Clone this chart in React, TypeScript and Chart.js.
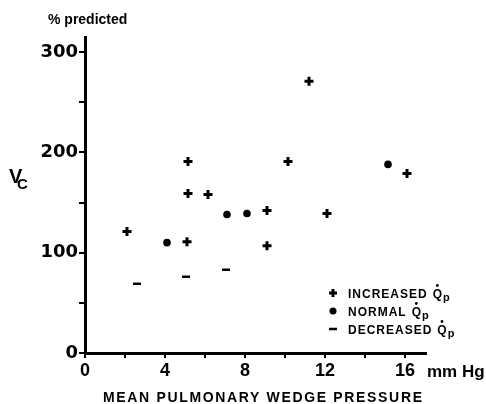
import React, { useEffect, useRef } from "react";
import { Chart, registerables } from "chart.js";

Chart.register(...registerables);

// ---- data ----
const increasedX = [2.1, 5.1, 5.15, 5.15, 6.15, 9.1, 9.1, 10.15, 11.2, 12.1, 16.1];
const increasedY = [121, 111, 191, 159, 158, 142, 107, 191, 271, 139, 179];
const normalX = [4.1, 7.1, 8.1, 15.15];
const normalY = [110, 138, 139, 188];
const decreasedX = [2.6, 5.05, 7.05];
const decreasedY = [69, 76, 83];

const xTickValues = [0, 2, 4, 6, 8, 10, 12, 14, 16];
const xTickLabels = [0, 4, 8, 12, 16];
const yTickValues = [0, 50, 100, 150, 200, 250, 300];
const yTickLabels = [0, 100, 200, 300];

const legendLabels = ["INCREASED", "NORMAL", "DECREASED"];
const xTitle = "MEAN PULMONARY WEDGE PRESSURE";
const yUnit = "% predicted";
const xUnit = "mm Hg";

const FONT = "'Liberation Sans', Arial, sans-serif";
const WIDE = "'DejaVu Sans', sans-serif";

const pts = (xs: number[], ys: number[]) => xs.map((x, i) => ({ x, y: ys[i] }));

const annotations = {
  id: "annotations",
  afterDraw(chart: any) {
    const ctx = chart.ctx as CanvasRenderingContext2D;
    ctx.save();
    ctx.fillStyle = "#000";
    ctx.strokeStyle = "#000";
    ctx.textBaseline = "alphabetic";
    ctx.textAlign = "left";

    // % predicted
    ctx.font = `bold 14px ${FONT}`;
    ctx.fillText(yUnit, 48, 24);

    // V_C
    ctx.font = `bold 20px ${FONT}`;
    ctx.fillText("V", 9, 183);
    ctx.font = `bold 15px ${FONT}`;
    ctx.fillText("C", 17, 189);

    // mm Hg
    ctx.font = `bold 17px ${FONT}`;
    ctx.fillText(xUnit, 427, 377);

    // x title with letter spacing
    ctx.font = `bold 14px ${FONT}`;
    const natural = ctx.measureText(xTitle).width;
    const target = 319;
    const sp = (target - natural) / (xTitle.length - 1);
    (ctx as any).letterSpacing = `${sp}px`;
    ctx.fillText(xTitle, 103, 402);
    (ctx as any).letterSpacing = "0px";

    // legend
    const rows = [293, 311, 329];
    const symX = 333;
    rows.forEach((ry, i) => {
      ctx.lineWidth = i === 2 ? 2.5 : 3;
      if (i === 0) {
        ctx.beginPath();
        ctx.moveTo(symX - 4, ry);
        ctx.lineTo(symX + 4, ry);
        ctx.moveTo(symX, ry - 4);
        ctx.lineTo(symX, ry + 4);
        ctx.stroke();
      } else if (i === 1) {
        ctx.beginPath();
        ctx.arc(symX, ry, 3.5, 0, Math.PI * 2);
        ctx.fill();
      } else {
        ctx.beginPath();
        ctx.moveTo(symX - 4, ry);
        ctx.lineTo(symX + 4, ry);
        ctx.stroke();
      }
      ctx.font = `bold 12px ${FONT}`;
      (ctx as any).letterSpacing = "1px";
      ctx.fillText(legendLabels[i], 348, ry + 4.5);
      const w = ctx.measureText(legendLabels[i]).width;
      (ctx as any).letterSpacing = "0px";
      const qx = 348 + w + 5;
      ctx.font = `bold 12px ${FONT}`;
      ctx.fillText("Q", qx, ry + 4.5);
      const qw = ctx.measureText("Q").width;
      ctx.beginPath();
      ctx.arc(qx + qw / 2, ry - 7.5, 1.4, 0, Math.PI * 2);
      ctx.fill();
      ctx.font = `bold 11px ${FONT}`;
      ctx.fillText("p", qx + qw + 1, ry + 8);
    });
    ctx.restore();
  },
};

export default function App() {
  const ref = useRef<HTMLCanvasElement>(null);
  useEffect(() => {
    if (!ref.current) return;
    const chart = new Chart(ref.current, {
      type: "scatter",
      data: {
        datasets: [
          {
            label: "INCREASED",
            data: pts(increasedX, increasedY),
            pointStyle: "cross",
            pointRadius: 4.5,
            pointBorderWidth: 3,
            borderColor: "#000",
            backgroundColor: "#000",
          },
          {
            label: "NORMAL",
            data: pts(normalX, normalY),
            pointStyle: "circle",
            pointRadius: 3.8,
            pointBorderWidth: 0,
            borderColor: "#000",
            backgroundColor: "#000",
          },
          {
            label: "DECREASED",
            data: pts(decreasedX, decreasedY),
            pointStyle: "line",
            pointRadius: 4,
            pointBorderWidth: 2.5,
            borderColor: "#000",
            backgroundColor: "#000",
          },
        ],
      },
      options: {
        responsive: false,
        animation: false,
        layout: { padding: { top: 37, right: 60, left: 0, bottom: 0 } },
        plugins: { legend: { display: false }, tooltip: { enabled: false } },
        scales: {
          x: {
            type: "linear",
            min: 0,
            max: 17.05,
            afterBuildTicks: (s: any) => {
              s.ticks = xTickValues.map((v) => ({ value: v }));
            },
            afterFit: (s: any) => {
              s.height = 51;
            },
            ticks: {
              autoSkip: false,
              maxRotation: 0,
              color: "#000",
              font: { family: FONT, size: 18, weight: "bold" },
              padding: 2,
              callback: (v: any) => (xTickLabels.includes(Number(v)) ? String(v) : ""),
            },
            grid: { drawOnChartArea: false, drawTicks: true, tickLength: 5, color: "#000", lineWidth: 2 },
            border: { display: true, color: "#000", width: 3 },
          },
          y: {
            type: "linear",
            min: 0,
            max: 315,
            afterBuildTicks: (s: any) => {
              s.ticks = yTickValues.map((v) => ({ value: v }));
            },
            afterFit: (s: any) => {
              s.width = 85;
            },
            ticks: {
              autoSkip: false,
              color: "#000",
              font: { family: WIDE, size: 18, weight: "bold" },
              padding: 1,
              callback: (v: any) => (yTickLabels.includes(Number(v)) ? String(v) : ""),
            },
            grid: { drawOnChartArea: false, drawTicks: true, tickLength: 6, color: "#000", lineWidth: 2 },
            border: { display: true, color: "#000", width: 3 },
          },
        },
      },
      plugins: [annotations],
    });
    return () => chart.destroy();
  }, []);
  return (
    <div style={{ position: "fixed", left: 0, top: 0, width: 486, height: 404, background: "#fff" }}>
      <canvas ref={ref} width={486} height={404} style={{ display: "block" }} />
    </div>
  );
}
